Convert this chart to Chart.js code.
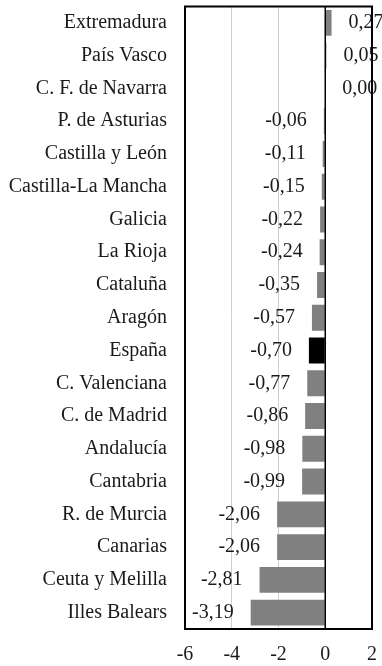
<!DOCTYPE html>
<html>
<head>
<meta charset="utf-8">
<script src="https://cdn.jsdelivr.net/npm/chart.js@4"></script>
<style>
  html, body { margin: 0; padding: 0; background: #ffffff; }
  #wrap { width: 382px; height: 666px; }
</style>
</head>
<body>
<div id="wrap"><canvas id="c"></canvas></div>
<script>
// Regions and their change (percentage points)
const regions = [
  'Extremadura', 'País Vasco', 'C. F. de Navarra', 'P. de Asturias',
  'Castilla y León', 'Castilla-La Mancha', 'Galicia', 'La Rioja',
  'Cataluña', 'Aragón', 'España', 'C. Valenciana', 'C. de Madrid',
  'Andalucía', 'Cantabria', 'R. de Murcia', 'Canarias',
  'Ceuta y Melilla', 'Illes Balears'
];
const changes = [
  0.27, 0.05, 0.00, -0.06,
  -0.11, -0.15, -0.22, -0.24,
  -0.35, -0.57, -0.70, -0.77, -0.86,
  -0.98, -0.99, -2.06, -2.06,
  -2.81, -3.19
];
const highlighted = 'España';
const xTicks = [-6, -4, -2, 0, 2];

const FONT = "'Liberation Serif', 'Times New Roman', serif";
const fmt = v => v.toFixed(2).replace('.', ',');

// Keep the tick labels from pushing the plot area inwards
const noEdgePadding = scale => {
  scale.paddingTop = 0;
  scale.paddingBottom = 0;
  scale.paddingLeft = 0;
  scale.paddingRight = 0;
};

// Value labels beside each bar end, then the zero line and the frame on top
const overlay = {
  id: 'overlay',
  afterDatasetsDraw(chart) {
    const ctx = chart.ctx;
    const meta = chart.getDatasetMeta(0);
    const x = chart.scales.x;
    const area = chart.chartArea;
    ctx.save();
    ctx.font = '20px ' + FONT;
    ctx.fillStyle = '#1a1a1a';
    ctx.textBaseline = 'middle';
    meta.data.forEach((bar, i) => {
      const v = changes[i];
      const end = x.getPixelForValue(v);
      if (v >= 0) {
        ctx.textAlign = 'left';
        ctx.fillText(fmt(v), end + 17, bar.y);
      } else {
        ctx.textAlign = 'right';
        ctx.fillText(fmt(v), end - 17, bar.y);
      }
    });
    const zx = x.getPixelForValue(0);
    ctx.strokeStyle = '#000000';
    ctx.lineWidth = 1.5;
    ctx.beginPath();
    ctx.moveTo(zx, area.top);
    ctx.lineTo(zx, area.bottom);
    ctx.stroke();
    ctx.lineWidth = 2;
    ctx.strokeRect(area.left, area.top, area.right - area.left, area.bottom - area.top);
    ctx.restore();
  }
};

new Chart(document.getElementById('c'), {
  type: 'bar',
  data: {
    labels: regions,
    datasets: [{
      data: changes,
      backgroundColor: regions.map(r => r === highlighted ? '#000000' : '#808080'),
      borderWidth: 0,
      categoryPercentage: 1,
      barPercentage: 0.79
    }]
  },
  options: {
    indexAxis: 'y',
    responsive: true,
    maintainAspectRatio: false,
    animation: false,
    layout: { padding: { top: 6.5, right: 10, bottom: 0, left: 0 } },
    plugins: {
      legend: { display: false },
      tooltip: { enabled: false }
    },
    scales: {
      x: {
        min: -6,
        max: 2,
        afterBuildTicks(scale) {
          scale.ticks = xTicks.map(v => ({ value: v }));
        },
        afterFit(scale) { scale.height = 37; noEdgePadding(scale); },
        grid: {
          drawTicks: false,
          color: ctx => (ctx.tick && (ctx.tick.value === -4 || ctx.tick.value === -2)) ? '#cfcfcf' : 'rgba(0,0,0,0)',
          lineWidth: 1
        },
        border: { display: false },
        ticks: {
          padding: 14,
          color: '#1a1a1a',
          font: { family: FONT, size: 20 },
          callback: v => String(v)
        }
      },
      y: {
        afterFit(scale) { scale.width = 185; noEdgePadding(scale); },
        grid: { display: false, drawTicks: false },
        border: { display: false },
        ticks: {
          padding: 18,
          color: '#1a1a1a',
          font: { family: FONT, size: 20 }
        }
      }
    }
  },
  plugins: [overlay]
});
</script>
</body>
</html>
